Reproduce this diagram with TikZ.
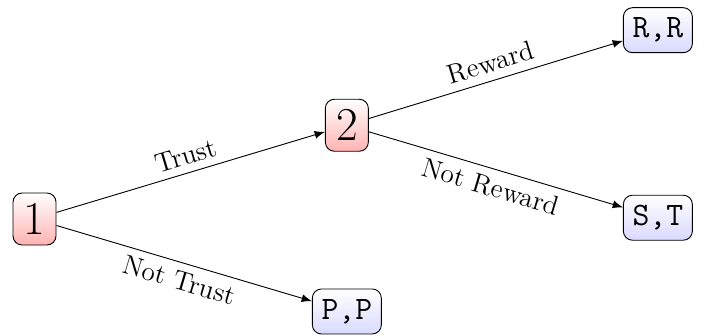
\documentclass[tikz,border=0pt]{standalone}
\usepackage{tikz}
\usetikzlibrary{arrows.meta, positioning}

\begin{document}
\begin{tikzpicture}[
  player/.style={draw, rounded corners, top color=white, bottom color=red!30, minimum width=0.665cm, minimum height=0.804cm, inner sep=1pt, font=\huge},
  payoff/.style={draw, rounded corners, top color=white, bottom color=blue!15, minimum width=1.067cm, minimum height=0.696cm, inner sep=1pt, font=\Large\ttfamily},
  move/.style={-{Latex[length=4.5pt, width=3.5pt]}},
  act/.style={font=\large, sloped},
]
\useasboundingbox (-0.534,-1.809) rectangle (10.369,3.387);
\node[player] (p1) at (0,0) {1};
\node[player] (p2) at (4.83,1.45) {2};
\node[payoff] (pp) at (4.83,-1.43) {P,P};
\node[payoff] (rr) at (9.64,2.92) {R,R};
\node[payoff] (st) at (9.64,0.02) {S,T};

\draw[move] (p1) -- node[act, above] {Trust} (p2);
\draw[move] (p1) -- node[act, below] {Not Trust} (pp);
\draw[move] (p2) -- node[act, above] {Reward} (rr);
\draw[move] (p2) -- node[act, below] {Not Reward} (st);
\end{tikzpicture}
\end{document}
